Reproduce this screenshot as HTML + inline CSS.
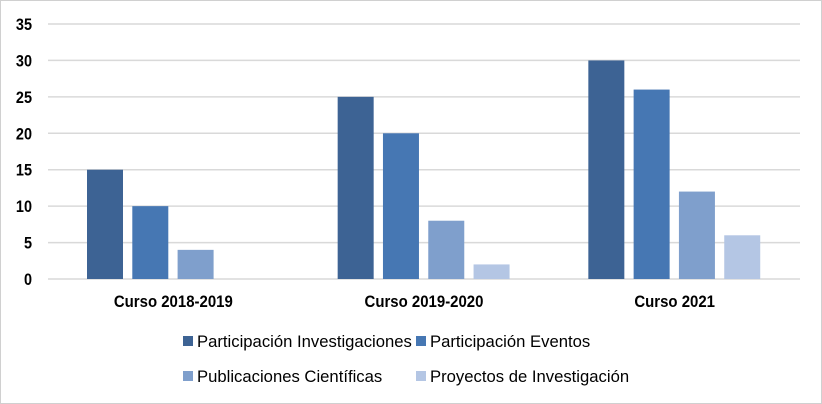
<!DOCTYPE html>
<html><head><meta charset="utf-8"><style>
body{margin:0;background:#fff}
svg{display:block}
text{font-family:"Liberation Sans Narrow","Liberation Sans",sans-serif;fill:#000}
</style></head><body>
<svg width="822" height="404" id="c">
<rect x="0.5" y="0.5" width="821" height="403" fill="#fff" stroke="#d0d0d0"/>
</svg>
<script>
const categories=["Curso 2018-2019","Curso 2019-2020","Curso 2021"];
const seriesNames=["Participación Investigaciones","Participación Eventos","Publicaciones Científicas","Proyectos de Investigación"];
const s1=[15,25,30];
const s2=[10,20,26];
const s3=[4,8,12];
const s4=[0,2,6];
const ticks=[0,5,10,15,20,25,30,35];
const colors=["#3d6394","#4677b3","#7f9fcc","#b4c6e4"];
const NS="http://www.w3.org/2000/svg";
const svg=document.getElementById('c');
const x0=48,x1=800,yb=279,yt=24,max=35;
const y=v=>yb-(v/max)*(yb-yt);
const gw=(x1-x0)/categories.length;
function mk(t,a){const e=document.createElementNS(NS,t);for(const k in a)e.setAttribute(k,a[k]);svg.appendChild(e);return e;}
function squeeze(t,f){const w=t.getComputedTextLength()*f;t.setAttribute('textLength',w);t.setAttribute('lengthAdjust','spacingAndGlyphs');}
ticks.forEach(t=>{
 const l=mk('line',{x1:x0,x2:x1,y1:y(t),y2:y(t),stroke:'#d9d9d9','stroke-width':1.5});
 
 
 const tx=mk('text',{x:32,y:y(t)+6,'text-anchor':'end','font-size':17,'font-weight':'bold'});
 tx.textContent=t;
 squeeze(tx,0.85);
 
 
});
const series=[s1,s2,s3,s4];
categories.forEach((c,i)=>{
 series.forEach((s,j)=>{
  const bx=x0+i*gw+39+j*45.3;
  const r=mk('rect',{x:bx,y:y(s[i]),width:36,height:yb-y(s[i]),fill:colors[j]});
  
  
 });
 const t=mk('text',{x:x0+i*gw+gw/2,y:307,'text-anchor':'middle','font-size':17,'font-weight':'bold'});
 t.textContent=c;
 squeeze(t,0.88);
 
 
});
const lp=[[183,341],[416,341],[183,376],[416,376]];
seriesNames.forEach((n,j)=>{
 const r=mk('rect',{x:lp[j][0],y:lp[j][1]-5,width:10,height:10,fill:colors[j]});
 
 
 const t=mk('text',{x:lp[j][0]+14,y:lp[j][1]+6,'font-size':17});
 t.textContent=n;
 squeeze(t,0.98);
 
 
});
</script>
</body></html>
